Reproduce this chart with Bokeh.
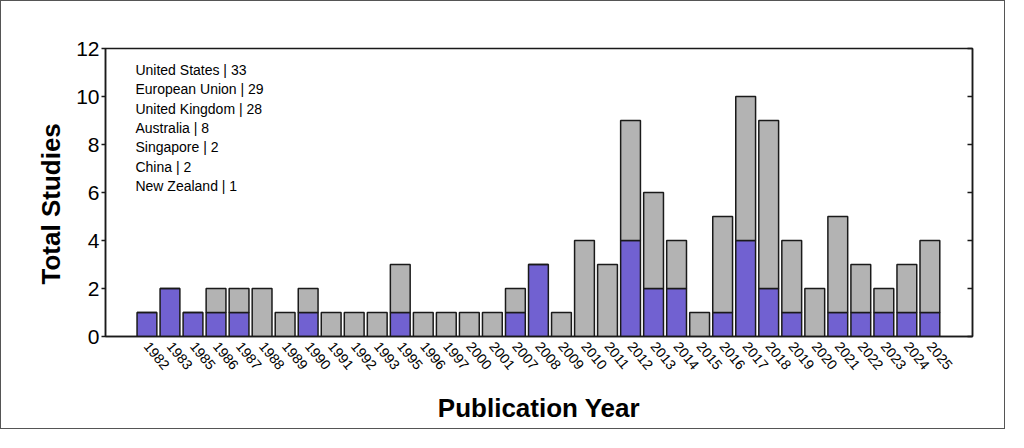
from bokeh.embed import file_html
from bokeh.models import (ColumnDataSource, FixedTicker, Label, LinearAxis,
                          Range1d, Title)
from bokeh.plotting import figure
from bokeh.resources import INLINE

YEARS = ["1982", "1983", "1985", "1986", "1987", "1988", "1989", "1990", "1991",
         "1992", "1993", "1995", "1996", "1997", "2000", "2001", "2007", "2008",
         "2009", "2010", "2011", "2012", "2013", "2014", "2015", "2016", "2017",
         "2018", "2019", "2020", "2021", "2022", "2023", "2024", "2025"]

# purple part of each bar
US_STUDIES = [1, 2, 1, 1, 1, 0, 0, 1, 0, 0, 0, 1, 0, 0, 0, 0, 1, 3,
              0, 0, 0, 4, 2, 2, 0, 1, 4, 2, 1, 0, 1, 1, 1, 1, 1]
# full bar height
TOTAL_STUDIES = [1, 2, 1, 2, 2, 2, 1, 2, 1, 1, 1, 3, 1, 1, 1, 1, 2, 3,
                 1, 4, 3, 9, 6, 4, 1, 5, 10, 9, 4, 2, 5, 3, 2, 3, 4]

COUNTRIES = ["United States", "European Union", "United Kingdom", "Australia",
             "Singapore", "China", "New Zealand"]
COUNTRY_COUNTS = [33, 29, 28, 8, 2, 2, 1]

Y_TICKS = [0, 2, 4, 6, 8, 10, 12]

PURPLE = "#7161d1"
GRAY = "#b3b3b3"
INK = "#1a1a1a"
FONT = "Liberation Sans"

OTHER_STUDIES = [t - u for t, u in zip(TOTAL_STUDIES, US_STUDIES)]
xs = list(range(len(YEARS)))
source = ColumnDataSource(dict(x=xs, us=US_STUDIES, other=OTHER_STUDIES))

p = figure(
    width=1005,
    height=429,
    x_range=Range1d(-1.8, 35.85),
    y_range=Range1d(0, 12),
    output_backend="svg",
    toolbar_location=None,
    min_border_left=104,
    min_border_right=34,
    min_border_top=47,
    min_border_bottom=94,
    styles={"border": "1.5px solid #555555"},
)

p.vbar_stack(
    ["us", "other"],
    x="x",
    width=0.86,
    color=[PURPLE, GRAY],
    line_color=INK,
    line_width=1.5,
    source=source,
)

p.xgrid.visible = False
p.ygrid.visible = False
p.outline_line_color = INK
p.outline_line_width = 1.5

# y axis, ticks pointing out
yax = p.yaxis[0]
yax.ticker = FixedTicker(ticks=Y_TICKS)
yax.major_tick_out = 4
yax.major_tick_in = 0
yax.minor_tick_out = 0
yax.minor_tick_in = 0
yax.axis_line_width = 1.5
yax.axis_line_color = INK
yax.major_tick_line_width = 1.5
yax.major_tick_line_color = INK
yax.major_label_standoff = 2
yax.major_label_text_font = FONT
yax.major_label_text_font_size = "21px"
yax.major_label_text_color = "black"

# right side: ticks pointing in, no labels
rax = LinearAxis(
    ticker=FixedTicker(ticks=Y_TICKS),
    major_tick_in=5,
    major_tick_out=0,
    minor_tick_in=0,
    minor_tick_out=0,
    major_tick_line_width=1.5,
    major_tick_line_color=INK,
    axis_line_width=1.5,
    axis_line_color=INK,
    major_label_overrides={t: "" for t in Y_TICKS},
)
p.add_layout(rax, "right")

# x axis with rotated year labels
xax = p.xaxis[0]
xax.ticker = FixedTicker(ticks=xs)
xax.major_label_overrides = {i: y for i, y in enumerate(YEARS)}
xax.major_tick_out = 0
xax.major_tick_in = 0
xax.minor_tick_out = 0
xax.minor_tick_in = 0
xax.axis_line_width = 1.5
xax.axis_line_color = INK
xax.major_label_orientation = -0.88
xax.major_label_standoff = 7
xax.major_label_text_font = FONT
xax.major_label_text_font_size = "14px"
xax.major_label_text_color = "black"
xax.axis_label = "Publication Year"
xax.axis_label_standoff = 16
xax.axis_label_text_font = FONT
xax.axis_label_text_font_size = "26px"
xax.axis_label_text_font_style = "bold"
xax.axis_label_text_color = "black"

# y title, sitting a little below the frame centre
p.add_layout(Title(text="Total Studies", align="left", offset=52,
                   standoff=15, text_font=FONT, text_font_size="26px",
                   text_font_style="bold", text_color="black"), "left")

# country counts in the upper left
for i, (name, count) in enumerate(zip(COUNTRIES, COUNTRY_COUNTS)):
    p.add_layout(Label(x=-0.5, y=11.12 - i * 0.81, text=f"{name} | {count}",
                       text_align="left", text_baseline="alphabetic",
                       text_font=FONT, text_font_size="14px",
                       text_color="black"))

open("out.html", "w").write(file_html(p, INLINE))
